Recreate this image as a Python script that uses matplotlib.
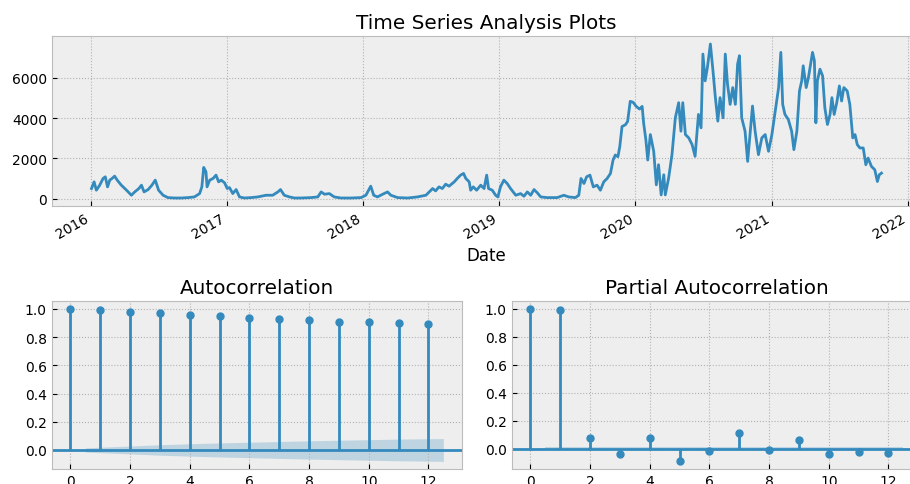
import numpy as np
import pandas as pd
import matplotlib
matplotlib.use("Agg")
import matplotlib.pyplot as plt
import matplotlib.dates as mdates

# ---------------- data ----------------
start_date = "2016-01-01"
day_offsets = [
    2, 9, 15, 24, 33, 39, 45, 51, 57, 64, 71, 82, 96, 109, 118, 129, 136, 143, 154, 164,
    173, 182, 194, 207, 225, 243, 261, 278, 292, 298, 303, 309, 312, 319, 328, 336, 343, 350,
    359, 366, 372, 381, 390, 399, 412, 430, 448, 470, 488, 502, 509, 519, 533, 546, 564,
    591, 609, 618, 627, 640, 653, 671, 698, 725, 738, 751, 759, 769, 783, 796, 805, 823, 850,
    876, 899, 908, 917, 925, 934, 943, 952, 961, 975, 983, 992, 1000, 1006, 1015, 1019, 1026,
    1035, 1046, 1055, 1062, 1067, 1077, 1086, 1092, 1099, 1108, 1117, 1126,
    1140, 1153, 1162, 1171, 1180, 1189, 1198, 1207, 1224, 1251, 1269, 1282, 1300, 1309, 1315,
    1323, 1330, 1339, 1348, 1358, 1367, 1376, 1385, 1394, 1401, 1407, 1414, 1419, 1425, 1434,
    1440, 1447, 1455, 1463, 1472, 1479, 1483, 1489, 1494,
    1501, 1510, 1517, 1523, 1530, 1537, 1541, 1550, 1559, 1568, 1577, 1583, 1588, 1595, 1604,
    1613, 1621, 1630, 1637, 1642, 1648, 1654, 1662, 1669, 1675, 1682, 1688, 1696, 1702, 1708,
    1715, 1722, 1729, 1735, 1740, 1746, 1755, 1762, 1769, 1775, 1782, 1791, 1800, 1809, 1818,
    1827, 1836,
    1845, 1851, 1856, 1862, 1871, 1880, 1886, 1894, 1901, 1907, 1911, 1919, 1925, 1931, 1936,
    1941, 1945, 1949, 1956, 1963, 1969, 1976, 1983, 1988, 1994, 2001, 2008, 2014, 2020, 2029,
    2036, 2044, 2050, 2056, 2063, 2072, 2079, 2085, 2094, 2103, 2110, 2115, 2121,
]
series_values = [
    500, 833, 417, 667, 1000, 1083, 583, 917, 1000, 1117, 917, 667, 417, 167, 333, 500, 667, 333, 450, 667,
    917, 417, 167, 50, 30, 30, 50, 83, 250, 583, 1550, 1333, 583, 917, 1000, 1167, 833, 917,
    783, 500, 550, 250, 450, 83, 30, 50, 83, 167, 167, 333, 450, 167, 83, 30, 30,
    50, 83, 333, 217, 250, 83, 30, 30, 50, 167, 617, 167, 83, 217, 333, 167, 50, 30,
    83, 167, 333, 500, 383, 583, 500, 717, 617, 833, 1000, 1167, 1250, 1000, 833, 417, 583,
    417, 667, 500, 1167, 500, 417, 167, 83, 583, 917, 750, 500,
    167, 250, 117, 333, 167, 450, 283, 83, 50, 50, 167, 83, 50, 167, 1000,
    750, 1083, 1167, 583, 667, 417, 833, 1000, 1250, 1917, 2167, 2083, 2583, 3583, 3667,
    3833, 4833, 4783, 4583, 4450, 4583, 3750, 2917, 1917,
    3183, 2350, 683, 1683, 183, 1183, 183, 1017, 2183, 4017, 4767, 3350, 4767, 3183, 3017,
    2683, 2100, 4183, 3517, 7183, 5850, 6517, 7683, 6350, 5100, 3850, 5017, 4017, 7183, 5683,
    4683, 5517, 4683, 6683, 7100, 4017, 3350, 1850, 3350, 4600, 3350, 2183, 3017, 3183, 2350,
    3183, 4350,
    5517, 7267, 4683, 4183, 3933, 3350, 2433, 3350, 5350, 5850, 6600, 5517, 6017, 6683, 7267,
    6850, 3767, 5850, 6433, 6100, 4517, 3683, 4183, 5017, 4183, 4767, 5600, 4850, 5517, 5350,
    4683, 3017, 3183, 2683, 2517, 2517, 1683, 2017, 1600, 1433, 850, 1183, 1267,
]

lags = list(range(13))
acf_values = [1.0, 0.99, 0.979, 0.969, 0.96, 0.95, 0.938, 0.929, 0.919, 0.91, 0.91, 0.90, 0.893]
acf_conf_halfwidth = [0.015, 0.028, 0.037, 0.044, 0.050, 0.055, 0.060, 0.065, 0.069, 0.073, 0.077, 0.081]
pacf_values = [1.0, 0.99, 0.076, -0.04, 0.076, -0.09, -0.019, 0.114, -0.012, 0.064, -0.04, -0.024, -0.031]
pacf_conf_halfwidth = [0.012] * 12

year_ticks = ["2016", "2017", "2018", "2019", "2020", "2021", "2022"]

# ---------------- plotting ----------------
plt.style.use("bmh")
plt.rcParams["grid.linestyle"] = ":"
plt.rcParams["grid.linewidth"] = 0.8
plt.rcParams["grid.color"] = "#b2b2b2"
W, H = 910, 485
fig = plt.figure(figsize=(W / 100, H / 100), dpi=100)


def box(l, t, r, b):
    return [l / W, 1 - b / H, (r - l) / W, (b - t) / H]


ts_ax = fig.add_axes(box(52, 37.3, 921, 206.7))
acf_ax = fig.add_axes(box(51.7, 302.3, 462, 470))
pacf_ax = fig.add_axes(box(511.7, 302.3, 922, 470))

dates = pd.Timestamp(start_date) + pd.to_timedelta(day_offsets, unit="D")
ts_ax.plot(dates, series_values, color="#348ABD", lw=2)
ts_ax.set_title("Time Series Analysis Plots")
ts_ax.set_xlabel("Date")
ts_ax.set_xticks([pd.Timestamp(y + "-01-01") for y in year_ticks])
ts_ax.xaxis.set_major_formatter(mdates.DateFormatter("%Y"))
plt.setp(ts_ax.get_xticklabels(), rotation=30, ha="right")
ts_ax.set_yticks([0, 2000, 4000, 6000])
ts_ax.margins(x=0.05, y=0.05)


def corr_plot(ax, vals, half, title):
    x = np.array(lags, dtype=float)
    v = np.array(vals)
    ax.vlines(x, 0, v, colors="#348ABD", lw=2)
    ax.axhline(0, color="#348ABD", lw=2)
    ax.plot(x, v, marker="o", markersize=5, linestyle="None", color="#348ABD")
    bx = x[1:].copy()
    bx[0] -= 0.5
    bx[-1] += 0.5
    h = np.array(half)
    ax.fill_between(bx, -h, h, color="#348ABD", alpha=0.25, lw=0)
    ax.set_title(title)
    ax.margins(0.05)
    ax.set_xticks([0, 2, 4, 6, 8, 10, 12])
    ax.set_yticks([0.0, 0.2, 0.4, 0.6, 0.8, 1.0])


corr_plot(acf_ax, acf_values, acf_conf_halfwidth, "Autocorrelation")
corr_plot(pacf_ax, pacf_values, pacf_conf_halfwidth, "Partial Autocorrelation")

fig.savefig("out.png", dpi=100)
